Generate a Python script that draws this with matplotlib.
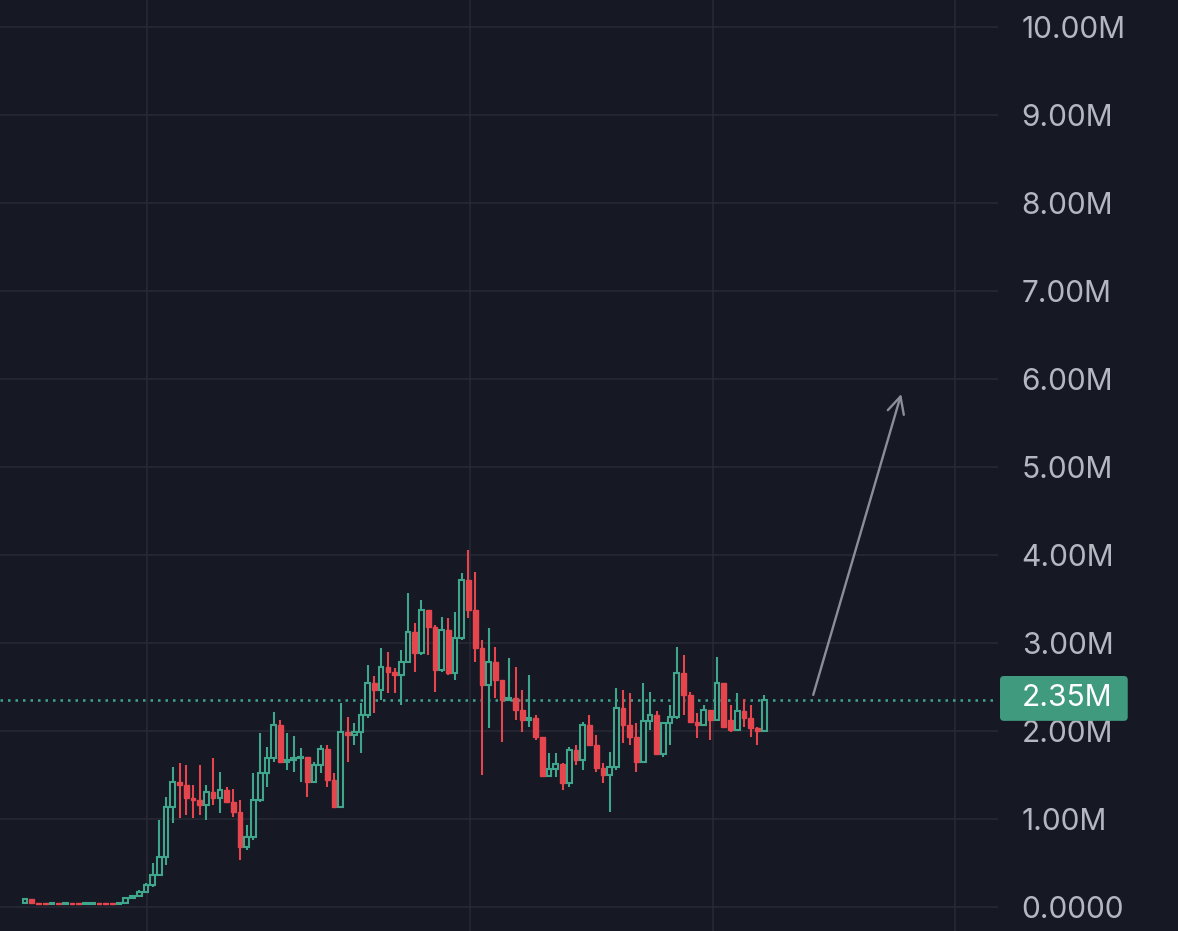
import numpy as np
import matplotlib
matplotlib.use("Agg")
import matplotlib.pyplot as plt
from matplotlib.patches import Rectangle, FancyBboxPatch
from matplotlib.ticker import FixedLocator

# candle data (millions)
opens = [0.04, 0.09, 0.04, 0.035, 0.033, 0.038, 0.032, 0.035, 0.031, 0.030,
         0.034, 0.041, 0.037, 0.033, 0.031, 0.045, 0.10, 0.12, 0.17, 0.25,
         0.36, 0.57, 1.14, 1.42, 1.39, 1.24, 1.22, 1.16, 1.31, 1.24,
         1.33, 1.19, 1.08, 0.68, 0.80, 1.22, 1.52, 1.69, 2.07, 1.65,
         1.67, 1.69, 1.70, 1.42, 1.61, 1.80, 1.44, 1.14, 1.99, 1.95,
         1.99, 2.18, 2.55, 2.47, 2.73, 2.67, 2.64, 2.78, 3.13, 2.89,
         3.38, 3.18, 2.69, 3.15, 2.66, 3.06, 3.72, 3.38, 2.94, 2.52,
         2.78, 2.58, 2.35, 2.38, 2.24, 2.13, 2.15, 1.93, 1.49, 1.57,
         1.63, 1.41, 1.78, 1.67, 2.07, 1.84, 1.58, 1.50, 1.59, 2.26,
         2.07, 1.93, 1.65, 2.11, 2.18, 1.74, 2.09, 2.16, 2.66, 2.41,
         2.10, 2.07, 2.24, 2.13, 2.55, 2.12, 2.01, 2.23, 2.15, 2.03,
         2.00]
highs = [0.10, 0.09, 0.045, 0.04, 0.04, 0.04, 0.038, 0.038, 0.037, 0.036,
         0.045, 0.045, 0.04, 0.037, 0.05, 0.11, 0.13, 0.19, 0.27, 0.50,
         0.99, 1.25, 1.59, 1.64, 1.61, 1.39, 1.61, 1.39, 1.69, 1.53,
         1.36, 1.34, 1.22, 0.93, 1.52, 1.98, 1.82, 2.22, 2.13, 1.98,
         1.94, 1.81, 1.71, 1.65, 1.84, 1.84, 1.52, 2.32, 2.16, 2.09,
         2.32, 2.75, 2.63, 2.94, 2.90, 2.72, 2.92, 3.57, 3.23, 3.49,
         3.38, 3.20, 3.30, 3.28, 3.35, 3.80, 4.06, 3.81, 3.03, 3.17,
         2.95, 2.58, 2.83, 2.73, 2.47, 2.64, 2.18, 1.93, 1.75, 1.75,
         1.64, 1.82, 1.84, 2.10, 2.18, 1.95, 1.64, 1.76, 2.49, 2.47,
         2.43, 2.09, 2.55, 2.44, 2.23, 2.09, 2.30, 2.95, 2.86, 2.44,
         2.20, 2.30, 2.24, 2.84, 2.55, 2.30, 2.43, 2.36, 2.30, 2.05,
         2.41]
lows = [0.03, 0.035, 0.03, 0.03, 0.03, 0.03, 0.03, 0.03, 0.028, 0.028,
        0.03, 0.035, 0.03, 0.03, 0.03, 0.04, 0.09, 0.11, 0.16, 0.23,
        0.35, 0.48, 0.95, 1.01, 1.05, 1.01, 1.05, 0.99, 1.16, 1.07,
        1.18, 1.02, 0.53, 0.65, 0.76, 1.19, 1.36, 1.65, 1.64, 1.56,
        1.53, 1.42, 1.25, 1.41, 1.52, 1.36, 1.12, 1.12, 1.65, 1.84,
        1.75, 2.15, 2.20, 2.35, 2.43, 2.43, 2.30, 2.77, 2.67, 2.86,
        2.86, 2.44, 2.67, 2.64, 2.58, 3.03, 3.28, 2.78, 1.50, 2.03,
        2.38, 1.88, 2.35, 2.13, 1.99, 2.05, 1.90, 1.48, 1.48, 1.48,
        1.33, 1.36, 1.61, 1.56, 1.84, 1.53, 1.41, 1.08, 1.56, 1.86,
        1.84, 1.53, 1.65, 2.01, 1.73, 1.71, 1.84, 2.14, 2.18, 2.10,
        1.92, 2.07, 1.90, 2.13, 2.03, 1.99, 2.01, 2.05, 1.93, 1.84,
        2.00]
closes = [0.09, 0.04, 0.035, 0.033, 0.038, 0.032, 0.035, 0.031, 0.030, 0.034,
          0.041, 0.037, 0.033, 0.031, 0.045, 0.10, 0.12, 0.17, 0.25, 0.36,
          0.57, 1.14, 1.42, 1.39, 1.24, 1.22, 1.16, 1.31, 1.24, 1.33,
          1.19, 1.08, 0.68, 0.80, 1.22, 1.52, 1.69, 2.07, 1.65, 1.67,
          1.69, 1.70, 1.42, 1.61, 1.80, 1.44, 1.14, 1.99, 1.95, 1.99,
          2.18, 2.55, 2.47, 2.73, 2.67, 2.64, 2.78, 3.13, 2.89, 3.38,
          3.18, 2.69, 3.15, 2.66, 3.06, 3.72, 3.38, 2.94, 2.52, 2.78,
          2.58, 2.35, 2.38, 2.24, 2.13, 2.15, 1.93, 1.49, 1.57, 1.63,
          1.41, 1.78, 1.67, 2.07, 1.84, 1.58, 1.50, 1.59, 2.26, 2.07,
          1.93, 1.65, 2.11, 2.18, 1.74, 2.09, 2.16, 2.66, 2.41, 2.10,
          2.07, 2.24, 2.13, 2.55, 2.05, 2.01, 2.23, 2.15, 2.03, 2.00,
          2.35]

last_price = 2.35
last_label = "2.35M"
tick_vals = [0, 1, 2, 3, 4, 5, 6, 7, 8, 9, 10]
tick_labels = ["0.0000", "1.00M", "2.00M", "3.00M", "4.00M", "5.00M",
               "6.00M", "7.00M", "8.00M", "9.00M", "10.00M"]

bg = "#161823"
grid_col = "#272a36"
up_col = "#3fa68b"
down_col = "#e5464e"
text_col = "#b4b7c0"

plt.rcParams["font.family"] = ["Inter", "DejaVu Sans"]

fig = plt.figure(figsize=(11.78, 9.31), dpi=100, facecolor=bg)
ax = fig.add_axes([0, 0, 998 / 1178, 1])
ax.set_facecolor(bg)

# grid
for v in tick_vals:
    ax.axhline(v, color=grid_col, lw=1.1, zorder=0)
for gx in [18.15, 66.2, 102.4, 138.4]:
    ax.axvline(gx, color=grid_col, lw=1.1, zorder=0)

w = 0.7
for i, (o, h, l, c) in enumerate(zip(opens, highs, lows, closes)):
    up = c >= o
    col = up_col if up else down_col
    ax.vlines(i, l, h, color=col, lw=1.5, zorder=2)
    bottom = min(o, c)
    height = max(abs(c - o), 0.012)
    if up:
        rect = Rectangle((i - w / 2, bottom), w, height, facecolor=bg,
                         edgecolor=col, lw=1.5, zorder=3)
    else:
        rect = Rectangle((i - w / 2, bottom), w, height, facecolor=col,
                         edgecolor=col, lw=1.0, zorder=3)
    ax.add_patch(rect)

# last price line
ax.axhline(last_price, color=up_col, lw=1.8, linestyle=(0, (1, 2)), zorder=1)

# projection arrow
ax.annotate("", xy=(130.4, 5.83), xytext=(117.3, 2.41),
            arrowprops=dict(arrowstyle="->", color="#8b8e98", lw=1.7,
                            mutation_scale=30, shrinkA=0, shrinkB=0))

ax.set_xlim(-3.72, 144.8)
ax.set_ylim(-0.273, 10.307)

ax.yaxis.tick_right()
ax.yaxis.set_major_locator(FixedLocator(tick_vals))
ax.set_yticklabels(tick_labels)
ax.tick_params(axis="y", length=0, pad=17, labelsize=21.5, labelcolor=text_col)
ax.set_xticks([])
for s in ax.spines.values():
    s.set_visible(False)

# price tag
tag = FancyBboxPatch((1.002, last_price - 0.235), 0.128, 0.51,
                     boxstyle="round,pad=0,rounding_size=0.004",
                     transform=ax.get_yaxis_transform(), clip_on=False,
                     facecolor="#3f9a7e", edgecolor="none", zorder=9,
                     mutation_aspect=11)
ax.add_patch(tag)
ax.annotate(last_label, xy=(1.0, last_price + 0.02), xycoords=("axes fraction", "data"),
            xytext=(17, 0), textcoords="offset points", ha="left", va="center",
            fontsize=21.5, color="white", annotation_clip=False, zorder=10)

fig.savefig("out.png", dpi=100, facecolor=bg)
